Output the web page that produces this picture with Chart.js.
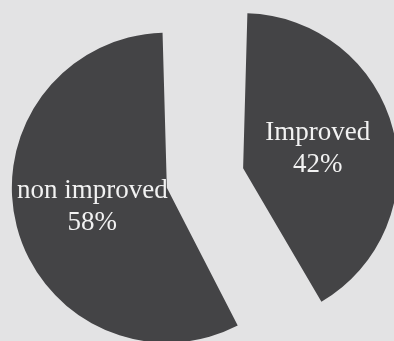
<!DOCTYPE html>
<html>
<head>
<meta charset="utf-8">
<script src="https://cdn.jsdelivr.net/npm/chart.js@4"></script>
<style>
  html, body { margin: 0; padding: 0; background: #e3e3e4; }
  #wrapper { width: 394px; height: 341px; position: relative; overflow: hidden; }
</style>
</head>
<body>
<div id="wrapper"><canvas id="pieChart"></canvas></div>
<script>

  //////////////
 // DONNÉES  //
//////////////

const labels = ['Improved', 'non improved'];
const values = [42, 58];

// décalage (explode) de chaque part, en px Chart.js (divisé par 4 au dessin)
const offsets = [207, 108];


  ///////////////////////////
 // PLUGIN ÉTIQUETTES     //
///////////////////////////

const sliceLabels = {
  id: 'sliceLabels',
  afterDatasetsDraw(chart) {
    const ctx = chart.ctx;
    const meta = chart.getDatasetMeta(0);
    ctx.save();
    ctx.fillStyle = '#f2f2f2';
    ctx.font = '27px "Liberation Serif", "DejaVu Serif", serif';
    ctx.textAlign = 'center';
    ctx.textBaseline = 'middle';
    meta.data.forEach((arc, i) => {
      const { x, y, startAngle, endAngle } = arc.getProps(['x', 'y', 'startAngle', 'endAngle'], true);
      const mid = (startAngle + endAngle) / 2;
      const d = offsets[i] / 4 + 77;
      const cx = x + Math.cos(mid) * d;
      const cy = y + Math.sin(mid) * d;
      ctx.fillText(labels[i], cx, cy - 16);
      ctx.fillText(values[i] + '%', cx, cy + 16);
    });
    ctx.restore();
  }
};


  ///////////////////////////
 // GRAPHIQUE CHART.JS    //
///////////////////////////

const ctx = document.getElementById('pieChart').getContext('2d');

new Chart(ctx, {
  type: 'pie',
  data: {
    labels: labels,
    datasets: [{
      data: values,
      backgroundColor: '#444446',
      borderWidth: 0,
      offset: offsets,
      hoverOffset: 0,
      radius: 128,
      clip: false
    }]
  },
  options: {
    responsive: true,
    maintainAspectRatio: false,
    animation: false,
    events: [],
    layout: { padding: { left: 0, right: 8, top: 21, bottom: 0 } },
    plugins: {
      legend: { display: false },
      tooltip: { enabled: false }
    }
  },
  plugins: [sliceLabels]
});

</script>
</body>
</html>
